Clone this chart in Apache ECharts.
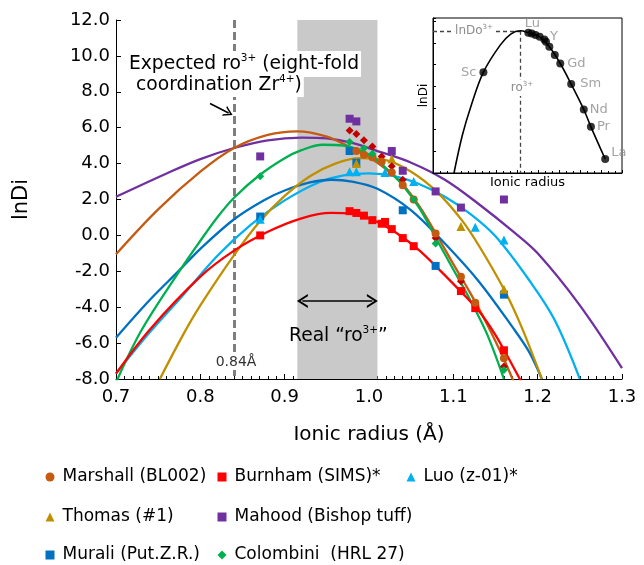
<!DOCTYPE html>
<html><head><meta charset="utf-8">
<script src="https://cdn.jsdelivr.net/npm/echarts@6/dist/echarts.min.js"></script>
<style>html,body{margin:0;padding:0;background:#fff}#c{width:644px;height:565px}</style>
</head><body><div id="c"></div>
<script>
// ---------- DATA ----------
const xMin = 0.7, xMax = 1.3, xStep = 0.1;
const yMin = -8, yMax = 12, yStep = 2;

// scatter points (ionic radius, lnDi)
const marshallX = [0.985,0.994,1.004,1.015,1.027,1.040,1.053,1.079,1.109,1.126,1.160];
const marshallY = [4.70,4.50,4.35,4.10,3.50,2.80,2.00,0.10,-2.30,-3.75,-6.85];
const diamondRedX = [0.977,0.985,0.994,1.004,1.015,1.027,1.040,1.079,1.109,1.160];
const diamondRedY = [5.85,5.65,5.30,4.95,4.40,3.85,3.10,-0.15,-2.55,-7.30];
const burnhamX = [0.871,0.977,0.985,0.994,1.004,1.015,1.019,1.027,1.040,1.053,1.109,1.126,1.160];
const burnhamY = [0.00,1.35,1.25,1.10,0.85,0.65,0.75,0.35,-0.15,-0.60,-3.10,-4.05,-6.40];
const luoX = [0.871,0.977,0.985,1.019,1.053,1.126,1.160];
const luoY = [0.90,3.55,3.55,3.50,3.00,0.45,-0.25];
const thomasX = [0.985,1.027,1.109,1.160];
const thomasY = [4.00,4.25,0.50,-3.00];
const mahoodX = [0.871,0.977,0.985,1.027,1.040,1.079,1.109,1.160];
const mahoodY = [4.40,6.50,6.35,4.70,3.60,2.45,1.55,2.00];
const muraliX = [0.871,0.977,0.985,1.040,1.079,1.160];
const muraliY = [1.05,4.70,4.05,1.40,-1.70,-3.30];
const colombiniX = [0.871,0.977,0.994,1.004,1.053,1.079,1.160];
const colombiniY = [3.30,5.20,4.85,4.55,2.00,-0.45,-7.50];

// fitted curves [radius, lnDi]
const mahoodCurve = [[0.70,2.15],[0.76,3.45],[0.80,4.25],[0.84,4.87],[0.88,5.3],[0.92,5.45],[0.95,5.4],[0.98,5.15],[1.01,4.7],[1.05,4.05],[1.09,3.1],[1.13,1.75],[1.17,0.25],[1.20,-1.0],[1.25,-3.9],[1.30,-7.4]];
const marshallCurve = [[0.70,-1.05],[0.75,1.45],[0.80,3.55],[0.84,4.87],[0.88,5.6],[0.915,5.8],[0.95,5.5],[0.98,4.85],[1.00,4.35],[1.02,3.7],[1.04,2.85],[1.06,1.6],[1.08,0.05],[1.10,-1.6],[1.12,-3.2],[1.14,-4.95],[1.16,-6.9],[1.172,-8.2]];
const colombiniCurve = [[0.70,-8.2],[0.73,-5.3],[0.775,-2.0],[0.80,-0.3],[0.82,1.0],[0.84,2.1],[0.87,3.35],[0.90,4.3],[0.92,4.75],[0.945,5.05],[0.97,5.0],[1.00,4.5],[1.02,3.75],[1.04,2.8],[1.06,1.5],[1.08,-0.2],[1.10,-1.9],[1.12,-3.6],[1.14,-5.5],[1.16,-8.0]];
const muraliCurve = [[0.70,-5.7],[0.74,-3.6],[0.775,-1.95],[0.80,-0.75],[0.84,0.9],[0.875,1.95],[0.90,2.5],[0.93,2.95],[0.955,3.1],[0.98,3.0],[1.01,2.6],[1.05,1.4],[1.09,-0.45],[1.13,-2.55],[1.17,-5.1],[1.19,-6.5],[1.205,-8.0]];
const luoCurve = [[0.70,-7.7],[0.74,-5.4],[0.78,-3.3],[0.82,-1.15],[0.86,0.6],[0.90,1.95],[0.94,2.95],[0.97,3.35],[1.00,3.45],[1.03,3.3],[1.06,2.85],[1.09,2.15],[1.12,1.2],[1.15,-0.05],[1.19,-2.5],[1.22,-4.7],[1.25,-8.0]];
const thomasCurve = [[0.752,-8.0],[0.78,-5.5],[0.80,-3.9],[0.84,-1.1],[0.87,0.75],[0.90,2.2],[0.93,3.3],[0.96,4.0],[0.99,4.3],[1.02,4.2],[1.05,3.55],[1.08,2.45],[1.11,0.85],[1.13,-0.55],[1.16,-3.0],[1.18,-5.0],[1.205,-8.0]];
const burnhamCurve = [[0.70,-7.7],[0.74,-5.25],[0.80,-2.3],[0.84,-0.85],[0.88,0.2],[0.92,0.95],[0.955,1.25],[0.98,1.2],[1.00,0.95],[1.02,0.5],[1.04,-0.1],[1.06,-0.85],[1.08,-1.75],[1.10,-2.7],[1.13,-4.2],[1.15,-5.55],[1.165,-6.8],[1.18,-8.1]];

// annotations
const expectedRo = 0.84;
const realRoBand = [0.915, 1.01];

// inset (schematic)
const insetElements = ['Sc','Lu','Yb','Tm','Er','Ho','Y','Dy','Tb','Gd','Sm','Nd','Pr','La'];
const insetRadius = [0.870,0.977,0.985,0.994,1.004,1.015,1.019,1.027,1.040,1.053,1.079,1.109,1.126,1.160];
const insetLnD = [4.65,6.47,6.44,6.37,6.28,6.16,6.05,5.82,5.44,5.05,4.10,2.93,2.13,0.645];
const insetCurve = [[0.80,0],[0.82,1.75],[0.84,3.06],[0.87,4.65],[0.91,5.9],[0.935,6.41],[0.958,6.56],[0.977,6.47],[1.004,6.28],[1.027,5.82],[1.053,5.05],[1.079,4.10],[1.109,2.93],[1.126,2.13],[1.16,0.645]];
const insetRo = 0.958, insetLnDo = 6.56;

// legend entries: [name, icon]
const legendItems = [
  ['Marshall (BL002)','circle'], ['Burnham (SIMS)*','rect'], ['Luo (z-01)*','triangle'],
  ['Thomas (#1)','triangle'], ['Mahood (Bishop tuff)','rect'],
  ['Murali (Put.Z.R.)','rect'], ['Colombini  (HRL 27)','diamond']
];

// ---------- CHART ----------
const FONT = 'DejaVu Sans';
const C = {marshall:'#c55a11', diamond:'#c00000', burnham:'#ff0000', luo:'#00b0f0', thomas:'#bf9000', mahood:'#7030a0', murali:'#0070c0', colombini:'#00b050'};
const zip = (xs, ys) => xs.map((x, i) => [x, ys[i]]);
const chevron = 'path://M0,10 L5,0 L10,10 L8.4,10 L5,3.2 L1.6,10 Z';

function curve(name, data, color, z) {
  return {name, type:'line', data, smooth:0.35, symbol:'none', xAxisIndex:0, yAxisIndex:0,
    lineStyle:{color, width:2.3}, z: z || 2, silent:true, clip:true};
}
function pts(name, xs, ys, color, symbol, size) {
  return {name, type:'scatter', data: zip(xs, ys), symbol, symbolSize: size,
    itemStyle:{color, opacity:1}, xAxisIndex:0, yAxisIndex:0, z:4, silent:true};
}

const labelPos = {
  Sc:{position:'left', distance:3}, Lu:{position:'top', distance:1, offset:[4,2]}, Y:{position:'right', offset:[-2,-5], distance:2},
  Gd:{position:'right', distance:3}, Sm:{position:'right', distance:5}, Nd:{position:'right', distance:2},
  Pr:{position:'right', distance:2}, La:{position:'right', offset:[0,-6], distance:2}
};
const insetPts = insetRadius.map((r, i) => {
  const e = insetElements[i];
  const lp = labelPos[e];
  return {value:[r, insetLnD[i]], name:e,
    label: lp ? Object.assign({show:true, formatter:e, color:'#8c8c8c', fontSize:13, fontFamily:FONT}, lp) : {show:false}};
});

// legend layout: column x of icon left edge, row y top
const colX = [45.5, 217.5, 406.5];
const rowY = [468, 508, 546];
const legendPosIdx = [[0,0],[1,0],[2,0],[0,1],[1,1],[0,2],[1,2]];
const legends = legendItems.map((it, i) => ({
  left: colX[legendPosIdx[i][0]], top: rowY[legendPosIdx[i][1]], padding:0,
  itemWidth:9, itemHeight:9, selectedMode:false,
  textStyle:{fontSize:17, fontFamily:FONT, color:'#000', lineHeight:18, padding:[0,0,0,3]},
  data:[{name:it[0], icon:it[1]}]
}));

const richMain = {a:{fontSize:18.7, fontFamily:FONT, fill:'#000', lineHeight:22}, s:{fontSize:10.5, fontFamily:FONT, fill:'#000', verticalAlign:'top', lineHeight:10}};

const option = {
  animation:false,
  backgroundColor:'#fff',
  textStyle:{fontFamily:FONT},
  grid:[
    {left:116, right:22, top:20, bottom:186, containLabel:false},
    {left:433, top:18, width:189, height:155, show:true, backgroundColor:'#fff', borderColor:'#000', borderWidth:1, z:10}
  ],
  xAxis:[
    {type:'value', gridIndex:0, min:xMin, max:xMax, interval:xStep,
      name:'Ionic radius (Å)', nameLocation:'middle', nameGap:46,
      nameTextStyle:{fontSize:20, color:'#000', fontFamily:FONT},
      axisLine:{show:true, onZero:false, lineStyle:{color:'#000', width:1}}, splitLine:{show:false},
      axisTick:{show:true, inside:true, length:5, lineStyle:{color:'#000'}},
      minorTick:{show:true, splitNumber:10, length:3, lineStyle:{color:'#000'}},
      axisLabel:{color:'#000', fontSize:18, fontFamily:FONT, margin:9, formatter:v => v.toFixed(1)}},
    {type:'value', gridIndex:1, min:0.75, max:1.2, interval:0.05,
      name:'Ionic radius', nameLocation:'middle', nameGap:3,
      nameTextStyle:{fontSize:13, color:'#000', fontFamily:FONT},
      axisLine:{show:true, onZero:false, lineStyle:{color:'#000', width:1}}, splitLine:{show:false},
      axisTick:{show:true, inside:true, length:3, lineStyle:{color:'#000'}},
      minorTick:{show:true, splitNumber:3, length:2, lineStyle:{color:'#000'}},
      axisLabel:{show:false}, z:11}
  ],
  yAxis:[
    {type:'value', gridIndex:0, min:yMin, max:yMax, interval:yStep,
      name:'lnDi', nameLocation:'middle', nameGap:84, nameRotate:90,
      nameTextStyle:{fontSize:21, color:'#000', fontFamily:FONT},
      axisLine:{show:true, onZero:false, lineStyle:{color:'#000', width:1}}, splitLine:{show:false},
      axisTick:{show:true, inside:true, length:5, lineStyle:{color:'#000'}},
      axisLabel:{color:'#000', fontSize:18, fontFamily:FONT, margin:6, formatter:v => v.toFixed(1)}},
    {type:'value', gridIndex:1, min:0, max:7.15, interval:1,
      name:'lnDi', nameLocation:'middle', nameGap:3, nameRotate:90,
      nameTextStyle:{fontSize:12, color:'#000', fontFamily:FONT},
      axisLine:{show:true, onZero:false, lineStyle:{color:'#000', width:1}}, splitLine:{show:false},
      axisTick:{show:true, inside:true, length:3, lineStyle:{color:'#000'}},
      axisLabel:{show:false}, z:11}
  ],
  legend: legends,
  series:[
    {name:'annot', type:'line', data:[], xAxisIndex:0, yAxisIndex:0, z:1, silent:true,
      markArea:{silent:true, z:1, itemStyle:{color:'#c9c9c9', opacity:1},
        data:[[{coord:[realRoBand[0], yMax]},{coord:[realRoBand[1], yMin]}]]},
      markLine:{silent:true, z:1, animation:false, label:{show:false}, symbol:['none','none'],
        data:[
          [{coord:[expectedRo, yMax], lineStyle:{type:[8,4], color:'#7f7f7f', width:3}},{coord:[expectedRo, yMin]}]
        ]}
    },
    {name:'arrows', type:'line', data:[], xAxisIndex:0, yAxisIndex:0, z:6, silent:true,
      markLine:{silent:true, z:6, animation:false, label:{show:false}, lineStyle:{type:'solid', color:'#000', width:1.6},
        data:[
          [{coord:[0.8115, 7.35], symbol:'none'},{coord:[0.8335, 6.82], symbol:chevron, symbolSize:[11,9]}],
          [{coord:[0.921, -3.65], symbol:chevron, symbolSize:[14,11]},{coord:[1.004, -3.65], symbol:chevron, symbolSize:[14,11]}]
        ]}
    },
    curve('c-mahood', mahoodCurve, C.mahood),
    curve('c-marshall', marshallCurve, C.marshall),
    curve('c-luo', luoCurve, C.luo),
    curve('c-murali', muraliCurve, C.murali),
    curve('c-thomas', thomasCurve, C.thomas),
    curve('c-colombini', colombiniCurve, C.colombini),
    curve('c-burnham', burnhamCurve, C.burnham),
    pts('Mahood (Bishop tuff)', mahoodX, mahoodY, C.mahood, 'rect', 8),
    pts('Murali (Put.Z.R.)', muraliX, muraliY, C.murali, 'rect', 8),
    pts('Luo (z-01)*', luoX, luoY, C.luo, 'triangle', 9),
    pts('Thomas (#1)', thomasX, thomasY, C.thomas, 'triangle', 9),
    pts('Burnham (SIMS)*', burnhamX, burnhamY, C.burnham, 'rect', 8),
    pts('extra', diamondRedX, diamondRedY, C.diamond, 'diamond', 8),
    pts('Marshall (BL002)', marshallX, marshallY, C.marshall, 'circle', 8),
    pts('Colombini  (HRL 27)', colombiniX, colombiniY, C.colombini, 'diamond', 8),
    // inset
    {name:'inset-curve', type:'line', data:insetCurve, smooth:0.35, symbol:'none', xAxisIndex:1, yAxisIndex:1,
      lineStyle:{color:'#000', width:1.6}, z:12, silent:true,
      markLine:{silent:true, z:12, animation:false, label:{show:false}, symbol:['none','none'],
        lineStyle:{type:[4,3], color:'#444', width:1.3},
        data:[
          [{coord:[0.75, insetLnDo]},{coord:[insetRo, insetLnDo]}],
          [{coord:[insetRo, insetLnDo]},{coord:[insetRo, 0]}]
        ]}},
    {name:'inset-pts', type:'scatter', data:insetPts, symbol:'circle', symbolSize:8, xAxisIndex:1, yAxisIndex:1,
      itemStyle:{color:'#000'}, z:13, silent:true}
  ],
  graphic:{elements:[
    {type:'text', x:127, y:64, z:100, style:{verticalAlign:'middle', align:'left', backgroundColor:'#fff', padding:[2,2],
      text:'{a|Expected ro}{s|3+}{a| (eight-fold}', rich:richMain}},
    {type:'text', x:134, y:85, z:100, style:{verticalAlign:'middle', align:'left', backgroundColor:'#fff', padding:[1,2],
      text:'{a|coordination Zr}{s|4+}{a|)}', rich:richMain}},
    {type:'text', x:289, y:336, z:100, style:{verticalAlign:'middle', align:'left',
      text:'{a|Real “ro}{s|3+}{a|”}', rich:richMain}},
    {type:'text', x:236, y:362, z:100, style:{verticalAlign:'middle', align:'center', backgroundColor:'#fff', padding:[1,1],
      text:'0.84Å', fontSize:14, fontFamily:FONT, fill:'#333'}},
    {type:'text', x:474, y:31, z:100, style:{verticalAlign:'middle', align:'center', backgroundColor:'#fff', padding:[0,1],
      text:'{a|lnDo}{s|3+}',
      rich:{a:{fontSize:12, fontFamily:FONT, fill:'#8c8c8c', lineHeight:14}, s:{fontSize:7, fontFamily:FONT, fill:'#8c8c8c', verticalAlign:'top', lineHeight:7}}}},
    {type:'text', x:522, y:88, z:100, style:{verticalAlign:'middle', align:'center', backgroundColor:'#fff', padding:[1,1],
      text:'{a|ro}{s|3+}',
      rich:{a:{fontSize:12, fontFamily:FONT, fill:'#8c8c8c', lineHeight:14}, s:{fontSize:7, fontFamily:FONT, fill:'#8c8c8c', verticalAlign:'top', lineHeight:7}}}}
  ]}
};

const chart = echarts.init(document.getElementById('c'), null, {renderer:'canvas'});
chart.setOption(option);
</script></body></html>
